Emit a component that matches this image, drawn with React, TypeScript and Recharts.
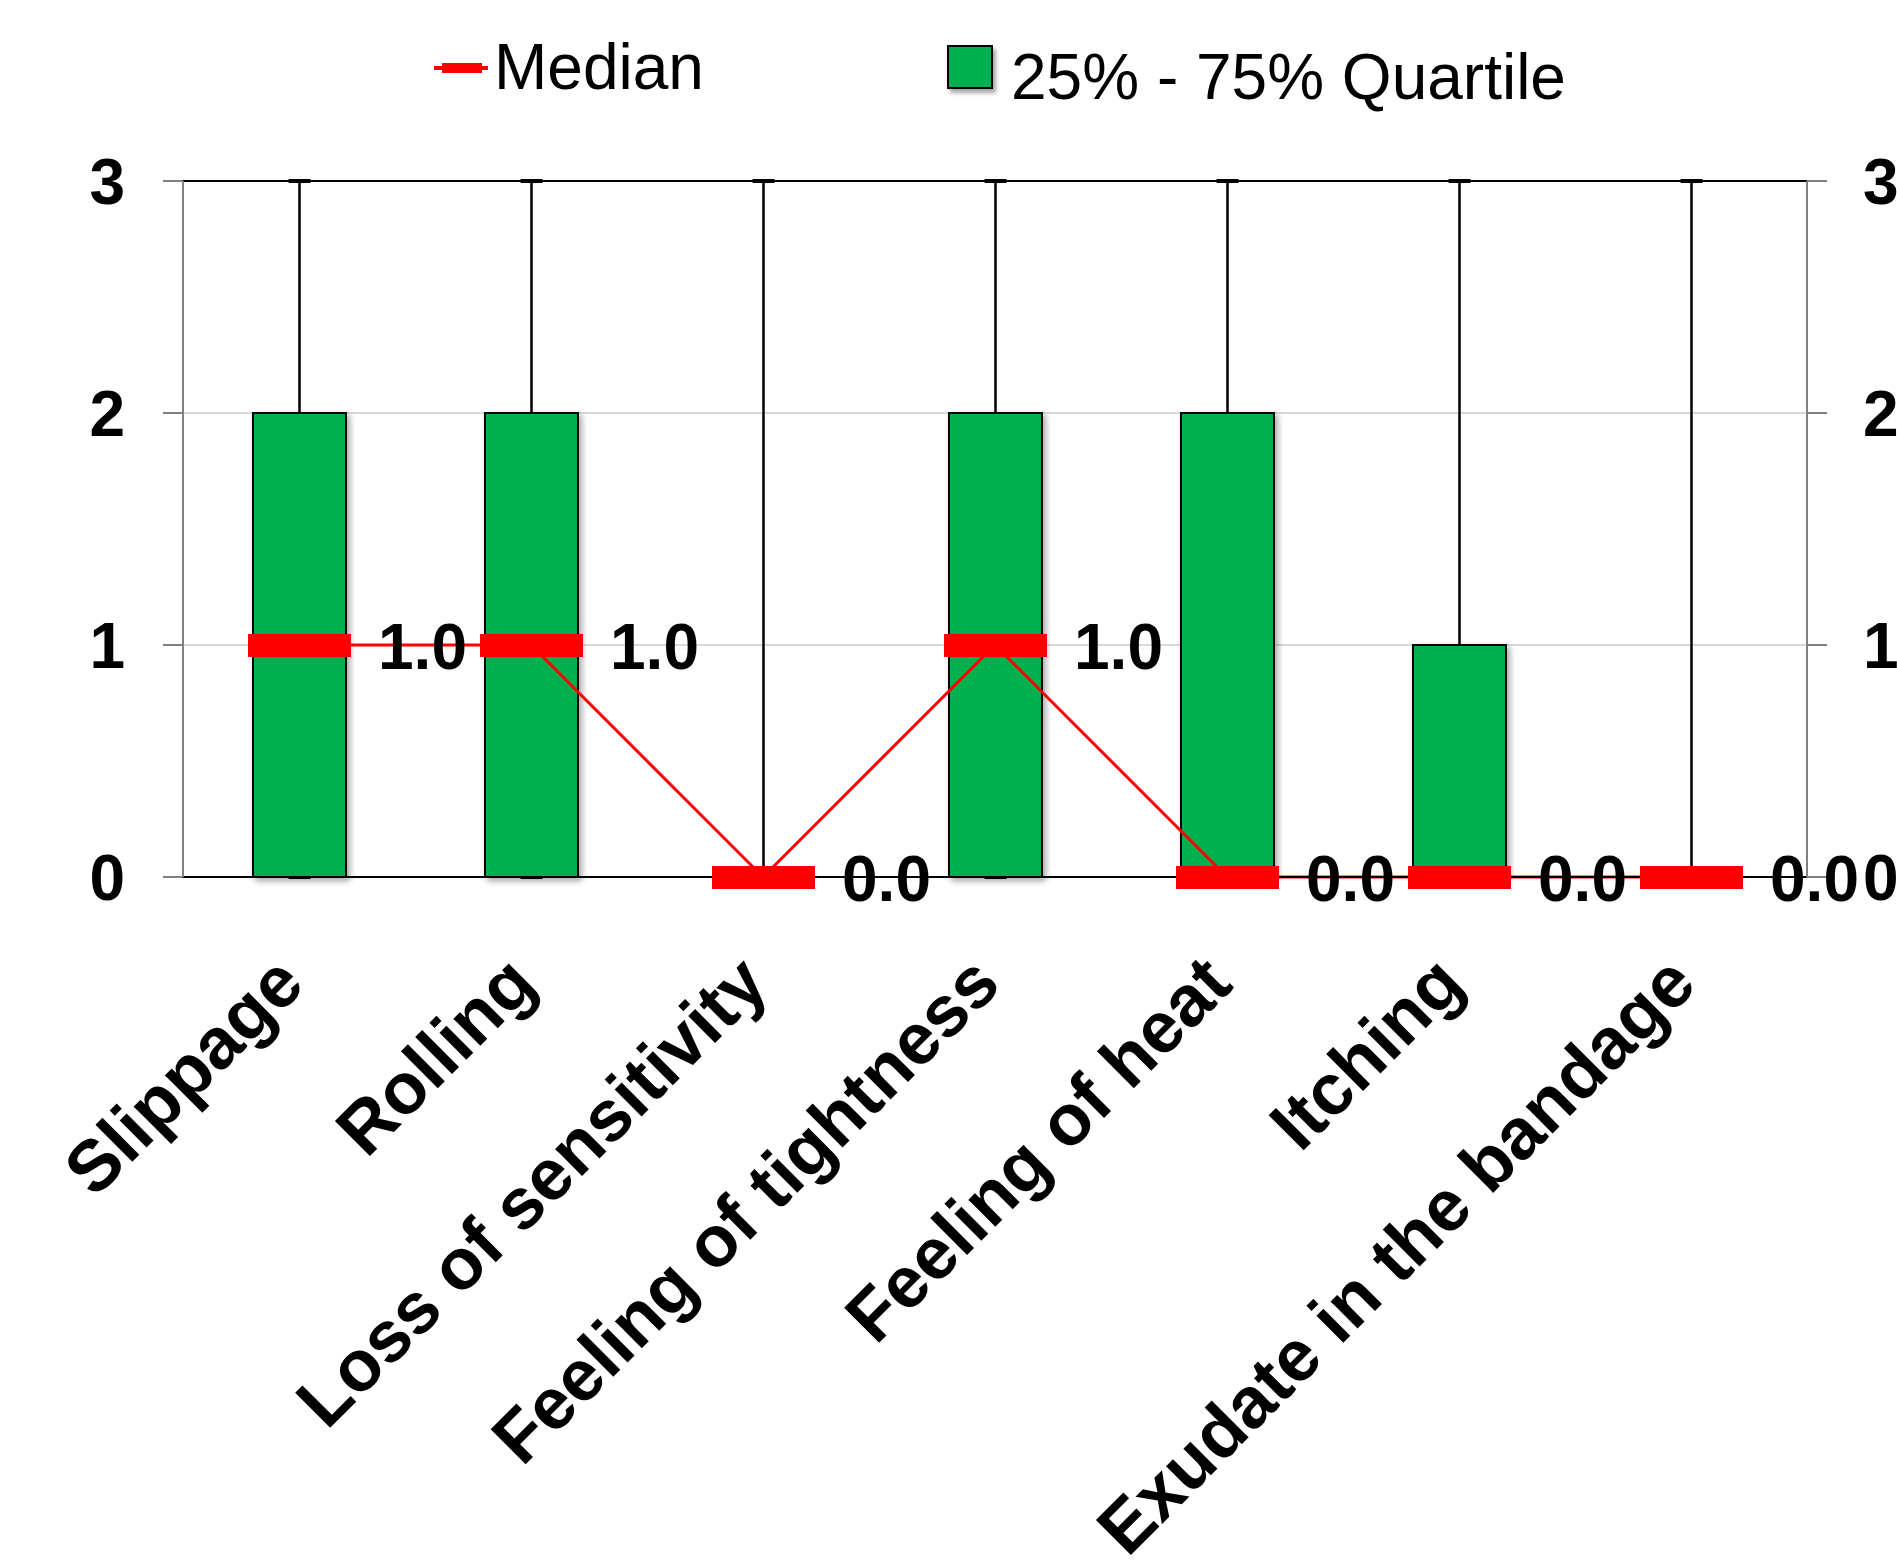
import React from "react";
import {
  ComposedChart,
  Bar,
  Line,
  XAxis,
  YAxis,
  CartesianGrid,
  Legend,
  LabelList,
  ReferenceLine,
} from "recharts";

const categories = [
  "Slippage",
  "Rolling",
  "Loss of sensitivity",
  "Feeling of tightness",
  "Feeling of heat",
  "Itching",
  "Exudate in the bandage",
];
const minValues = [0, 0, 0, 0, 0, 0, 0];
const q1Values = [0, 0, 0, 0, 0, 0, 0];
const medianValues = [1, 1, 0, 1, 0, 0, 0];
const q3Values = [2, 2, 0, 2, 2, 1, 0];
const maxValues = [3, 3, 3, 3, 3, 3, 3];
const yTicks = [0, 1, 2, 3];

const data = categories.map((name, i) => ({
  name,
  whisker: [minValues[i], maxValues[i]],
  box: [q1Values[i], q3Values[i]],
  median: medianValues[i],
}));

const FONT = '"Liberation Sans", Arial, Helvetica, sans-serif';
const GREEN = "#00B050";
const RED = "#FF0000";

// vertical whisker with small caps at both ends
const WhiskerShape = (props: any) => {
  const { x, y, width, height } = props;
  const cx = x + width / 2;
  return (
    <g>
      <line x1={cx} x2={cx} y1={y} y2={y + height} stroke="#000" strokeWidth={2.5} />
      <line x1={cx - 11} x2={cx + 11} y1={y} y2={y} stroke="#000" strokeWidth={4} />
      <line x1={cx - 11} x2={cx + 11} y1={y + height} y2={y + height} stroke="#000" strokeWidth={4} />
    </g>
  );
};

const BoxShape = (props: any) => {
  const { x, y, width, height } = props;
  if (!height || height <= 0) return null;
  return (
    <rect
      x={x}
      y={y}
      width={width}
      height={height}
      fill={GREEN}
      stroke="#000"
      strokeWidth={2}
      filter="url(#boxShadow)"
    />
  );
};

const MedianDot = (props: any) => {
  const { cx, cy, index } = props;
  return <rect key={index} x={cx - 51} y={cy - 11} width={103} height={23} fill={RED} />;
};

const MedianLabel = (props: any) => {
  const { x, y, value } = props;
  return (
    <text
      x={x + 79}
      y={y + 24}
      fontFamily={FONT}
      fontWeight="bold"
      fontSize={64}
      fill="#000"
    >
      {Number(value).toFixed(1)}
    </text>
  );
};

const CategoryTick = (props: any) => {
  const { x, y, payload } = props;
  const tx = x + 8;
  const ty = y + 102;
  return (
    <text
      x={tx}
      y={ty}
      textAnchor="end"
      transform={`rotate(-45, ${tx}, ${ty})`}
      fontFamily={FONT}
      fontWeight="bold"
      fontSize={72}
      fill="#000"
    >
      {payload.value}
    </text>
  );
};

const ValueTick = (props: any) => {
  const { x, y, payload, textAnchor } = props;
  return (
    <text
      x={x}
      y={y}
      dy="0.36em"
      textAnchor={textAnchor}
      fontFamily={FONT}
      fontWeight="bold"
      fontSize={64}
      fill="#000"
    >
      {payload.value}
    </text>
  );
};

const renderLegend = () => (
  <div style={{ position: "relative", width: 1897, height: 120, fontFamily: FONT }}>
    <div style={{ position: "absolute", left: 434, top: 66, width: 54, height: 4, background: RED }} />
    <div style={{ position: "absolute", left: 442, top: 63, width: 40, height: 10, background: RED }} />
    <div style={{ position: "absolute", left: 494, top: 30, fontSize: 64, lineHeight: "74px", color: "#000" }}>
      Median
    </div>
    <div
      style={{
        position: "absolute",
        left: 947,
        top: 45,
        width: 42,
        height: 40,
        background: GREEN,
        border: "2px solid #000",
        boxShadow: "3px 4px 4px rgba(0,0,0,0.35)",
      }}
    />
    <div style={{ position: "absolute", left: 1011, top: 40, fontSize: 64, lineHeight: "74px", color: "#000" }}>
      25% - 75% Quartile
    </div>
  </div>
);

export default function App() {
  return (
    <div style={{ position: "absolute", left: 0, top: 0, background: "#fff" }}>
      <ComposedChart
        width={1897}
        height={1562}
        data={data}
        margin={{ top: 181, right: 0, bottom: 0, left: 0 }}
        barSize={93}
        barGap={-93}
        style={{ overflow: "visible" }}
      >
        <defs>
          <filter id="boxShadow" x="-20%" y="-10%" width="150%" height="130%">
            <feDropShadow dx={3} dy={3} stdDeviation={3} floodColor="#000" floodOpacity={0.35} />
          </filter>
        </defs>
        <CartesianGrid yAxisId="left" vertical={false} stroke="#d9d9d9" strokeWidth={2} />
        <ReferenceLine yAxisId="left" y={3} stroke="#000" strokeWidth={2} />
        <XAxis
          dataKey="name"
          axisLine={{ stroke: "#000", strokeWidth: 2 }}
          tickLine={false}
          height={685}
          interval={0}
          tick={<CategoryTick />}
        />
        <YAxis
          yAxisId="left"
          domain={[0, 3]}
          ticks={yTicks}
          interval={0}
          width={183}
          tickSize={20}
          tickMargin={38}
          axisLine={{ stroke: "#808080", strokeWidth: 2 }}
          tickLine={{ stroke: "#808080", strokeWidth: 2 }}
          tick={<ValueTick />}
        />
        <YAxis
          yAxisId="right"
          orientation="right"
          domain={[0, 3]}
          ticks={yTicks}
          interval={0}
          width={90}
          tickSize={20}
          tickMargin={36}
          axisLine={{ stroke: "#808080", strokeWidth: 2 }}
          tickLine={{ stroke: "#808080", strokeWidth: 2 }}
          tick={<ValueTick />}
        />
        <Legend
          verticalAlign="middle"
          align="center"
          layout="horizontal"
          content={renderLegend}
          wrapperStyle={{ top: 0, left: 0, width: 1897 }}
        />
        <Bar
          yAxisId="left"
          dataKey="whisker"
          shape={<WhiskerShape />}
          isAnimationActive={false}
          legendType="none"
        />
        <Bar
          yAxisId="left"
          dataKey="box"
          shape={<BoxShape />}
          isAnimationActive={false}
        />
        <Line
          yAxisId="right"
          dataKey="median"
          type="linear"
          stroke={RED}
          strokeWidth={3}
          dot={<MedianDot />}
          activeDot={false}
          isAnimationActive={false}
        >
          <LabelList dataKey="median" content={<MedianLabel />} />
        </Line>
      </ComposedChart>
    </div>
  );
}
